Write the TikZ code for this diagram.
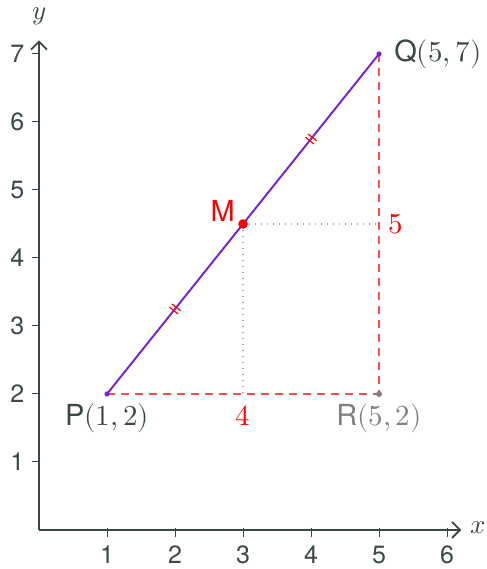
\documentclass[tikz,border=0pt]{standalone}
\usepackage{fontspec}
\setmainfont{TeX Gyre Heros}
\usepackage{unicode-math}
\setmathfont{Latin Modern Math}
\usetikzlibrary{arrows.meta}
\definecolor{axisc}{HTML}{3A4848}
\definecolor{segc}{HTML}{7B22D0}
\definecolor{redd}{HTML}{FF4D4D}
\definecolor{grayc}{HTML}{808080}
\tikzset{
  axisline/.style={draw=axisc, line width=0.9pt, -{Straight Barb[length=4pt,width=8pt]}},
  tickmark/.style={draw=axisc, line width=0.5pt},
  ticklbl/.style={text=axisc, font=\fontsize{12.5}{14}\selectfont, inner sep=0pt},
  ptlbl/.style={text=axisc, font=\fontsize{14.5}{16}\selectfont, inner sep=0pt},
  seg/.style={draw=segc, line width=1pt},
  reddash/.style={draw=redd, line width=0.7pt, dash pattern=on 4pt off 3pt},
  guide/.style={draw=grayc!70, line width=0.6pt, dash pattern=on 0.6pt off 2.4pt},
  hashm/.style={draw=red, line width=0.6pt},
  numlbl/.style={text=red, font=\fontsize{14.5}{16}\selectfont, inner sep=0pt},
}
\begin{document}
\begin{tikzpicture}[x=34pt,y=34pt]
\useasboundingbox (-0.574,-0.574) rectangle (6.588,7.794);
% axes
\coordinate (O) at (0,0);
\coordinate (xe) at (6.21,0);
\coordinate (ye) at (0,7.2);
\draw[axisline] (O) -- (xe);
\draw[axisline] (O) -- (ye);
\node[text=axisc, font=\fontsize{13.5}{15}\selectfont] (xl) at (6.46,0.04) {$x$};
\node[text=axisc, font=\fontsize{13.5}{15}\selectfont] (yl) at (0.0,7.56) {$y$};
\foreach \i in {1,...,6} {
  \draw[tickmark] (\i,0.03) -- (\i,-0.1);
  \node[ticklbl] (xt\i) at (\i,-0.37) {\i};
}
\foreach \j in {1,...,7} {
  \draw[tickmark] (-0.1,\j) -- (0,\j);
  \node[ticklbl] (yt\j) at (-0.32,\j) {\j};
}
% points
\coordinate (P) at (1,2);
\coordinate (Q) at (5,7);
\coordinate (R) at (5,2);
\coordinate (M) at (3,4.5);
\coordinate (Mx) at (5,4.5);
\coordinate (My) at (3,2);
% guides
\draw[guide] (M) -- (Mx);
\draw[guide] (M) -- (My);
\draw[reddash] (P) -- (R);
\draw[reddash] (Q) -- (R);
\draw[seg] (P) -- (Q);
% hash marks
\foreach \a/\b in {2/3.25,4/5.75} {
  \begin{scope}[shift={(\a,\b)}, rotate=51.34]
    \draw[hashm] (-0.03,-0.08) -- (-0.03,0.08);
    \draw[hashm] (0.03,-0.08) -- (0.03,0.08);
  \end{scope}
}
\fill[segc] (P) circle (1.3pt);
\fill[segc] (Q) circle (1.3pt);
\fill[grayc] (R) circle (1.5pt);
\fill[red] (M) circle (2.4pt);
% labels
\node[ptlbl] (Pl) at (1,1.65) {P$(1,2)$};
\node[ptlbl, anchor=west] (Ql) at (5.22,7.0) {Q$(5,7)$};
\node[ptlbl, text=grayc] (Rl) at (5,1.65) {R$(5,2)$};
\node[ptlbl, text=red] (Ml) at (2.7,4.69) {M};
\node[numlbl] (fivel) at (5.25,4.49) {$5$};
\node[numlbl] (fourl) at (3,1.68) {$4$};
\end{tikzpicture}
\end{document}
